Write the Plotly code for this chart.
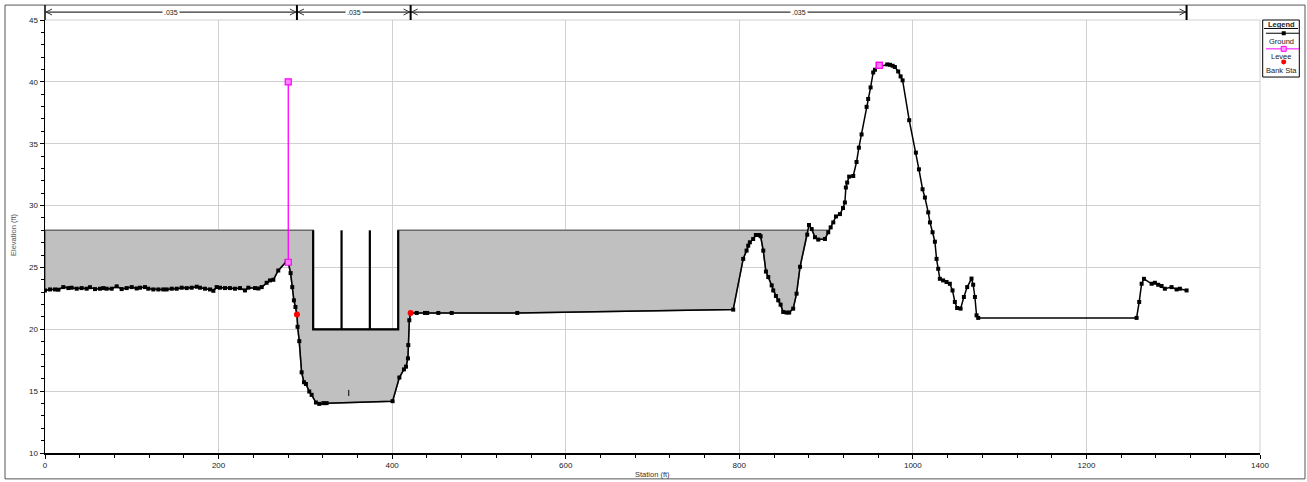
import plotly.graph_objects as go

# ---------------- data ----------------
ground_sta = [0, 5.8, 11.5, 15.4, 21.1, 26.9, 30.7, 36.5, 42.2, 48, 51.8, 57.6, 63.4, 67.2, 71,
              76.8, 82.6, 88.3, 94.1, 99.9, 105.6, 109.5, 115.2, 119, 124.8, 130.6, 136.3, 140.2,
              146, 151.7, 157.5, 163.3, 169, 174.8, 178.6, 184.3, 190.1, 194, 197.8, 201.6, 207.4,
              213.1, 218.9, 224.7, 230.4, 234.3, 242, 245.9, 249.7, 255.4, 259.2, 263.1, 268.8,
              278.5, 280.3, 283, 284.9, 286.8, 288.6, 290.3, 291, 293, 295.7, 298.4, 300.7, 304.5,
              307.2, 312.2, 316, 320.7, 324.5, 400.5, 408.3, 413.6, 416, 418.2, 418.6, 419.8, 421.3,
              428.3, 437.8, 440.4, 453.2, 468.6, 544.2, 793, 804.5, 808.4, 810.3, 812.2, 816, 819.1,
              823, 824.6, 827.6, 830.7, 833.4, 837.3, 839.1, 842.2, 844.9, 847.6, 850.6, 854.5,
              857.5, 862.1, 866, 870, 878.3, 880.3, 883.4, 887.2, 891, 898.7, 902.5, 905.3, 908.3,
              911.4, 916, 919.5, 921.7, 922.8, 924.3, 926.6, 931.3, 935.1, 937.8, 940.9, 946.7,
              948.5, 951.3, 954.3, 956.3, 961.3, 962.9, 970.5, 973.6, 976.7, 979.3, 983.1, 985.9,
              988.2, 995.8, 1003.5, 1007, 1011.2, 1013.9, 1017.7, 1019.7, 1022.7, 1025.4, 1027.3,
              1029.2, 1031.1, 1034.9, 1038.8, 1042.6, 1045.7, 1048.4, 1051, 1055, 1058.8, 1062.6,
              1067.6, 1069.5, 1071.5, 1073.4, 1075.3, 1257.8, 1260.8, 1263.6, 1266.3, 1275.1,
              1278.9, 1282.7, 1286.6, 1290.4, 1298.1, 1303.9, 1307.7, 1315.4]
ground_elev = [23.14, 23.22, 23.22, 23.2, 23.41, 23.33, 23.36, 23.28, 23.33, 23.28, 23.4, 23.25,
               23.28, 23.33, 23.28, 23.28, 23.47, 23.25, 23.33, 23.41, 23.3, 23.36, 23.41, 23.28,
               23.22, 23.22, 23.22, 23.22, 23.28, 23.28, 23.36, 23.33, 23.36, 23.44, 23.36, 23.28,
               23.22, 23.11, 23.41, 23.36, 23.33, 23.33, 23.28, 23.33, 23.14, 23.36, 23.33, 23.3,
               23.41, 23.76, 23.95, 24.0, 24.75, 25.5, 25.42, 24.54, 23.41, 22.34, 21.8, 21.19,
               20.2, 19.04, 16.52, 15.72, 15.58, 14.97, 14.7, 14.08, 13.97, 14.03, 14.03, 14.19,
               16.1, 16.76, 16.98, 17.65, 18.72, 20.73, 21.32, 21.32, 21.32, 21.32, 21.32, 21.32,
               21.32, 21.59, 25.69, 26.36, 26.76, 27.03, 27.3, 27.62, 27.62, 27.52, 26.36, 24.67,
               24.22, 23.55, 23.14, 22.69, 22.34, 21.99, 21.4, 21.35, 21.35, 21.67, 22.88, 25.05,
               27.65, 28.43, 28.1, 27.44, 27.25, 27.3, 27.84, 28.24, 28.64, 29.12, 29.31, 29.8,
               30.25, 31.46, 31.86, 32.34, 32.39, 33.52, 34.68, 35.75, 37.98, 38.62, 39.55, 40.76,
               40.98, 41.33, 41.25, 41.41, 41.38, 41.3, 41.2, 40.84, 40.44, 40.12, 36.9, 34.28,
               32.93, 31.32, 30.65, 29.45, 28.64, 27.84, 27.08, 25.69, 24.89, 24.08, 23.95, 23.82,
               23.68, 23.14, 22.21, 21.72, 21.67, 22.61, 23.41, 24.1, 23.6, 22.61, 21.13, 20.92,
               20.92, 22.21, 23.68, 24.08, 23.68, 23.76, 23.6, 23.5, 23.28, 23.41, 23.22, 23.28,
               23.14]

levee_sta = [280.3, 961.3]
levee_top = [40.0, 41.33]
levee_base = [25.42, 41.33]

bank_sta = [290.3, 421.3]
bank_elev = [21.19, 21.32]

deck_elev = 28.0
deck_end = 905.3
culvert_left = 309.0
culvert_right = 407.0
culvert_invert = 20.0
culvert_dividers = [341.7, 374.3]
marker_I_sta = 350.0
marker_I_elev = [14.6, 15.1]

n_breaks = [0.0, 290.3, 421.3, 1315.4]
n_values = [".035", ".035", ".035"]

x_ticks = [0, 200, 400, 600, 800, 1000, 1200, 1400]
y_ticks = [10, 15, 20, 25, 30, 35, 40, 45]

# ---------------- geometry helpers ----------------
W, H = 1307, 482
L, R, T, B = 45, 47, 20, 27
PW, PH = W - L - R, H - T - B
XR = (0, 1400)
FT_PER_PX = (XR[1] - XR[0]) / PW


def PX(px):
    return (px - L) / PW


def PY(py):
    return (H - B - py) / PH


def runs_below(xs, ys, top, x_end):
    pts = [(x, y) for x, y in zip(xs, ys) if x <= x_end]
    runs, cur = [], []
    for i, (x, y) in enumerate(pts):
        if i > 0:
            x0, y0 = pts[i - 1]
            if (y0 - top) * (y - top) < 0:
                xc = x0 + (top - y0) * (x - x0) / (y - y0)
                cur.append((xc, top))
                if y > top:
                    runs.append(cur)
                    cur = []
        if y <= top:
            cur.append((x, y))
    if len(cur) > 1:
        runs.append(cur)
    return runs


fig = go.Figure()

# deck / embankment fill
fx, fy = [], []
for run in runs_below(ground_sta, ground_elev, deck_elev, deck_end):
    a, b = run[0][0], run[-1][0]
    top = [(a, deck_elev)]
    if a < culvert_left < b:
        top += [(culvert_left, deck_elev), (culvert_left, culvert_invert),
                (culvert_right, culvert_invert), (culvert_right, deck_elev)]
    top.append((b, deck_elev))
    poly = top + run[::-1]
    fx += [p[0] for p in poly] + [poly[0][0], None]
    fy += [p[1] for p in poly] + [poly[0][1], None]
fig.add_trace(go.Scatter(x=fx, y=fy, mode="lines", fill="toself", fillcolor="#c0c0c0",
                         line=dict(color="#6a6a6a", width=1.5), hoverinfo="skip"))

# culvert outlines
cx = [culvert_left, culvert_left, culvert_right, culvert_right]
cy = [deck_elev, culvert_invert, culvert_invert, deck_elev]
for d in culvert_dividers:
    cx += [None, d, d]
    cy += [None, culvert_invert, deck_elev]
fig.add_trace(go.Scatter(x=cx, y=cy, mode="lines", line=dict(color="black", width=2.2),
                         hoverinfo="skip"))

# small label mark in channel
fig.add_trace(go.Scatter(x=[marker_I_sta, marker_I_sta], y=marker_I_elev, mode="lines",
                         line=dict(color="black", width=1), hoverinfo="skip"))

# ground
fig.add_trace(go.Scatter(x=ground_sta, y=ground_elev, mode="lines+markers", name="Ground",
                         line=dict(color="black", width=1.5),
                         marker=dict(symbol="square", size=4, color="black")))

# levees
lx, ly = [], []
for s, t, g in zip(levee_sta, levee_top, levee_base):
    lx += [s, s, None]
    ly += [t, g, None]
fig.add_trace(go.Scatter(x=lx, y=ly, mode="lines+markers", name="Levee",
                         line=dict(color="#ff00ff", width=1.3),
                         marker=dict(symbol="square", size=6, color="#ff80ff",
                                     line=dict(color="#ff00ff", width=1.2))))

# bank stations
fig.add_trace(go.Scatter(x=bank_sta, y=bank_elev, mode="markers", name="Bank Sta",
                         marker=dict(symbol="circle", size=6, color="#ff0000")))

shapes = []
annotations = []

# outer frame
shapes.append(dict(type="rect", xref="paper", yref="paper", x0=PX(5), x1=PX(1305),
                   y0=PY(481), y1=PY(5), line=dict(color="#555555", width=1)))
# plot top/right edges (light)
shapes.append(dict(type="line", xref="paper", yref="paper", x0=0, x1=1, y0=1, y1=1,
                   line=dict(color="#d0d0d0", width=1)))
shapes.append(dict(type="line", xref="paper", yref="paper", x0=1, x1=1, y0=0, y1=1,
                   line=dict(color="#d0d0d0", width=1)))

# n-value strip
ys = PY(12)
dpx = 1 / PH
shapes.append(dict(type="line", xref="paper", yref="paper", x0=0, x1=0, y0=1, y1=PY(5),
                   line=dict(color="black", width=1.5)))
for i in range(len(n_values)):
    a, b = n_breaks[i], n_breaks[i + 1]
    shapes.append(dict(type="line", xref="x", yref="paper", x0=a, x1=b, y0=ys, y1=ys,
                       line=dict(color="#333333", width=1.3)))
    ah = 6 * FT_PER_PX
    shapes.append(dict(type="path", xref="x", yref="paper",
                       path=f"M {a + ah + 1.2},{ys + 3 * dpx} L {a + 1.2},{ys} L {a + ah + 1.2},{ys - 3 * dpx}",
                       line=dict(color="#333333", width=1)))
    shapes.append(dict(type="path", xref="x", yref="paper",
                       path=f"M {b - ah - 1.2},{ys + 3 * dpx} L {b - 1.2},{ys} L {b - ah - 1.2},{ys - 3 * dpx}",
                       line=dict(color="#333333", width=1)))
    annotations.append(dict(x=(a + b) / 2, y=ys, xref="x", yref="paper", text=n_values[i],
                            showarrow=False, font=dict(size=7, color="#222222"),
                            bgcolor="white", borderpad=1, xanchor="center", yanchor="middle"))
for bx in n_breaks[1:]:
    shapes.append(dict(type="line", xref="x", yref="paper", x0=bx, x1=bx, y0=1, y1=PY(5),
                       line=dict(color="black", width=2)))

# legend box
shapes.append(dict(type="rect", xref="paper", yref="paper", x0=PX(1262.7), x1=PX(1299.3),
                   y0=PY(77.3), y1=PY(20), line=dict(color="black", width=1), fillcolor="white"))
shapes.append(dict(type="line", xref="paper", yref="paper", x0=PX(1264), x1=PX(1298),
                   y0=PY(28.5), y1=PY(28.5), line=dict(color="black", width=1)))
lcx = 1283.7
shapes.append(dict(type="line", xref="paper", yref="paper", x0=PX(1266), x1=PX(1299),
                   y0=PY(33.3), y1=PY(33.3), line=dict(color="black", width=1)))
shapes.append(dict(type="rect", xref="paper", yref="paper", x0=PX(lcx - 2), x1=PX(lcx + 2),
                   y0=PY(35.3), y1=PY(31.3), line=dict(width=0), fillcolor="black"))
shapes.append(dict(type="line", xref="paper", yref="paper", x0=PX(1266), x1=PX(1299),
                   y0=PY(49), y1=PY(49), line=dict(color="#ff00ff", width=1)))
shapes.append(dict(type="rect", xref="paper", yref="paper", x0=PX(lcx - 2.5), x1=PX(lcx + 2.5),
                   y0=PY(51.5), y1=PY(46.5), line=dict(color="#ff00ff", width=1), fillcolor="#ff99ff"))
shapes.append(dict(type="circle", xref="paper", yref="paper", x0=PX(lcx - 2.5), x1=PX(lcx + 2.5),
                   y0=PY(64.8), y1=PY(59.8), line=dict(width=0), fillcolor="#ff0000"))
for txt, py, bold in [("Legend", 24.3, True), ("Ground", 41.5, False), ("Levee", 56.8, False),
                      ("Bank Sta", 70.5, False)]:
    annotations.append(dict(x=PX(1281), y=PY(py), xref="paper", yref="paper",
                            text=f"<b>{txt}</b>" if bold else txt, showarrow=False,
                            font=dict(size=7.5, color="#222222"), xanchor="center", yanchor="middle"))

# axis titles
annotations.append(dict(x=PX(652), y=PY(476.5), xref="paper", yref="paper", text="Station (ft)",
                        showarrow=False, font=dict(size=7.5, color="#333333"),
                        xanchor="center", yanchor="middle"))
annotations.append(dict(x=PX(13), y=PY(236), xref="paper", yref="paper", text="Elevation (ft)",
                        showarrow=False, textangle=-90, font=dict(size=7.5, color="#555555"),
                        xanchor="center", yanchor="middle"))

fig.update_layout(
    width=W, height=H, margin=dict(l=L, r=R, t=T, b=B), autosize=False,
    paper_bgcolor="white", plot_bgcolor="white", showlegend=False,
    font=dict(family="Liberation Sans, Arial, sans-serif", size=8, color="#222222"),
    shapes=shapes, annotations=annotations,
    xaxis=dict(range=list(XR), tickvals=x_ticks, showgrid=True, gridcolor="#d0d0d0", gridwidth=1,
               showline=True, linecolor="black", linewidth=1.5, ticks="outside", ticklen=4,
               tickcolor="black", tickwidth=1, zeroline=False,
               tickfont=dict(size=8, color="#222222"),
               minor=dict(tick0=0, dtick=40, ticks="outside", ticklen=3, tickcolor="black",
                          showgrid=False)),
    yaxis=dict(range=[10, 45], tickvals=y_ticks, showgrid=True, gridcolor="#d0d0d0", gridwidth=1,
               showline=True, linecolor="black", linewidth=1.5, ticks="outside", ticklen=4,
               tickcolor="black", tickwidth=1, zeroline=False,
               tickfont=dict(size=8, color="#222222"),
               minor=dict(tick0=10, dtick=1, ticks="outside", ticklen=3, tickcolor="black",
                          showgrid=False)),
)

fig.write_html("out.html", config={"displayModeBar": False, "staticPlot": True},
               post_script="document.body.style.margin='0px';document.body.style.overflow='hidden';")
